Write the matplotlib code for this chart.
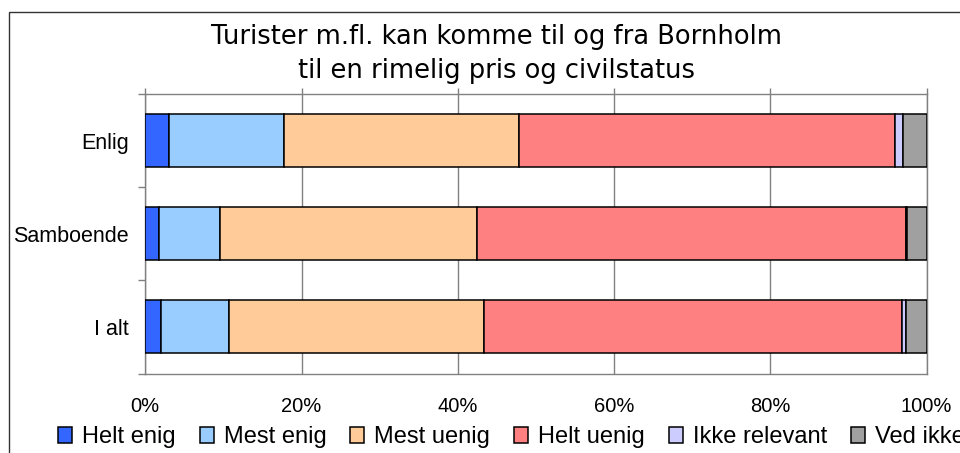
import matplotlib
matplotlib.use("Agg")
import matplotlib.pyplot as plt
import numpy as np
from matplotlib.patches import Rectangle

categories = ["Enlig", "Samboende", "I alt"]
series_names = ["Helt enig", "Mest enig", "Mest uenig", "Helt uenig", "Ikke relevant", "Ved ikke"]
helt_enig = [3.0, 1.7, 2.0]
mest_enig = [14.7, 7.8, 8.7]
mest_uenig = [30.1, 33.0, 32.6]
helt_uenig = [48.2, 54.9, 53.6]
ikke_relevant = [1.0, 0.1, 0.5]
ved_ikke = [3.0, 2.5, 2.6]
xticks = [0, 20, 40, 60, 80, 100]
xtick_labels = ["0%", "20%", "40%", "60%", "80%", "100%"]
title_lines = ["Turister m.fl. kan komme til og fra Bornholm", "til en rimelig pris og civilstatus"]

colors = ["#3366FF", "#99CCFF", "#FFCC99", "#FF8080", "#CCCCFF", "#A0A0A0"]

W, H = 960, 453
fig = plt.figure(figsize=(W / 100, H / 100), dpi=100)
fig.patch.set_facecolor("white")

# outer frame
fig.add_artist(Rectangle((9 / W, -0.1), 1.2, 1.1 - 12 / H, transform=fig.transFigure,
                         fill=False, edgecolor="#333333", linewidth=1.0))

ax = fig.add_axes([145.3 / W, 1 - 373.5 / H, (926.5 - 145.3) / W, (373.5 - 94) / H])

data = [helt_enig, mest_enig, mest_uenig, helt_uenig, ikke_relevant, ved_ikke]
y = np.arange(len(categories))
left = np.zeros(len(categories))
for name, vals, c in zip(series_names, data, colors):
    vals = np.array(vals, dtype=float)
    ax.barh(y, vals, left=left, height=0.57, color=c, edgecolor="black",
            linewidth=1.1, label=name, zorder=3)
    left += vals

ax.set_xlim(0, 100)
ax.set_ylim(2.5, -0.5)
ax.set_xticks(xticks)
ax.set_xticklabels(xtick_labels, fontsize=14.5, family="Liberation Sans")
ax.tick_params(axis="x", which="major", bottom=False, top=True, labelbottom=True,
               labeltop=False, length=4.5, width=1, color="#808080", direction="out", pad=12.5)
ax.set_yticks(y)
ax.set_yticklabels(categories, fontsize=15.5, family="Liberation Sans")
ax.tick_params(axis="y", which="major", length=0, pad=12)
ax.set_yticks([-0.5, 0.5, 1.5, 2.5], minor=True)
ax.tick_params(axis="y", which="minor", length=5, width=1, color="#808080", direction="out")

ax.grid(axis="x", color="#808080", linewidth=1.0, zorder=0)
ax.set_axisbelow(True)
for s in ["left", "bottom", "top", "right"]:
    ax.spines[s].set_color("#808080")
    ax.spines[s].set_linewidth(1.0)

fig.text(496.5 / W, 1 - 37 / H, title_lines[0], ha="center", va="center",
         fontsize=18.5, family="DejaVu Sans")
fig.text(496.5 / W, 1 - 71 / H, title_lines[1], ha="center", va="center",
         fontsize=18.5, family="DejaVu Sans")

handles, labels = ax.get_legend_handles_labels()
fig.legend(handles, labels, loc="center left", bbox_to_anchor=(58 / W, 1 - 437 / H),
           ncol=6, frameon=False, borderpad=0, borderaxespad=0,
           handlelength=0.6, handleheight=0.65, handletextpad=0.42, columnspacing=1.01,
           prop={"family": "Liberation Sans", "size": 17})

fig.savefig("out.png", dpi=100)
